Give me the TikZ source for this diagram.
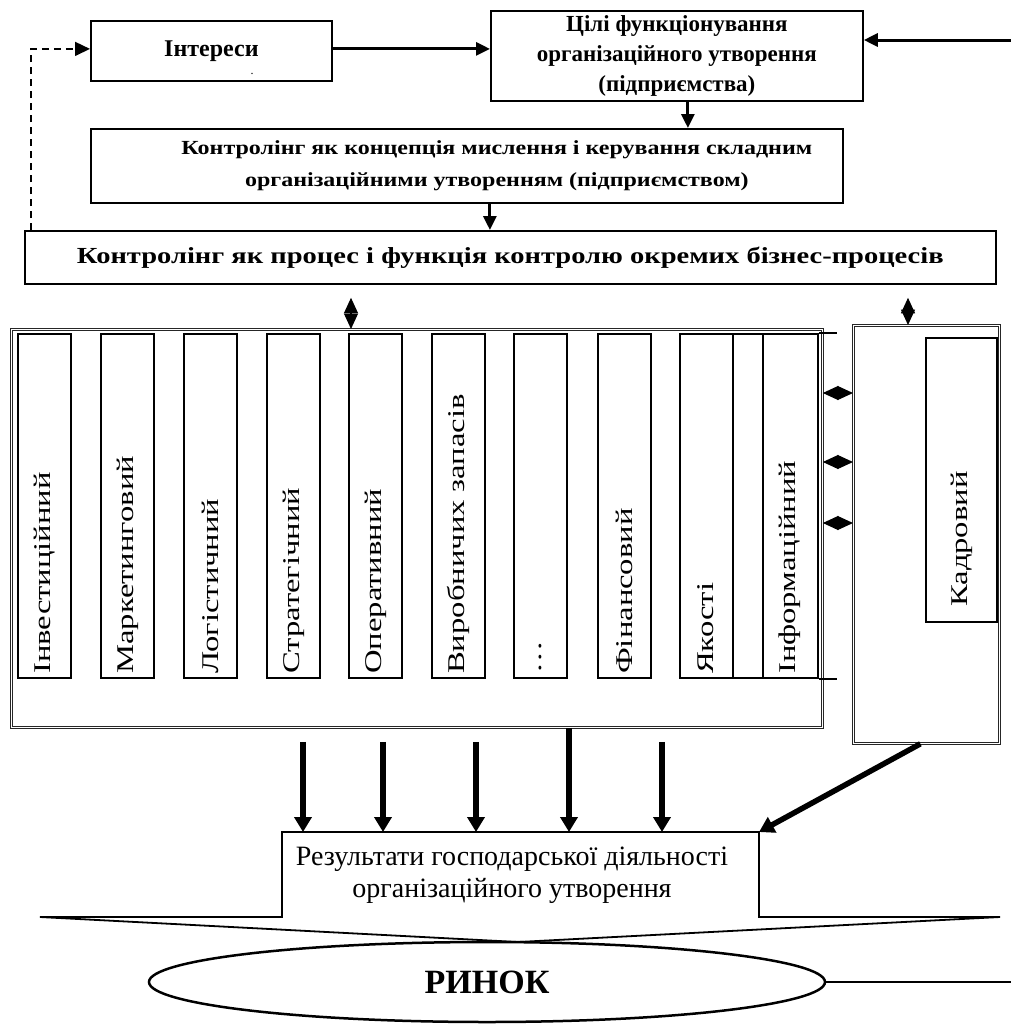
\documentclass[tikz,border=0pt]{standalone}
\usepackage{fontspec}
\setmainfont{Liberation Serif}
\newfontfamily\colfont[FakeStretch=1.36]{Liberation Serif}
\newfontfamily\headfont[FakeStretch=1.2]{Liberation Serif}
\newfontfamily\widefont[FakeStretch=1.24]{Liberation Serif}
\usetikzlibrary{arrows.meta, shapes.geometric, positioning, calc}

\begin{document}
\begin{tikzpicture}[x=1pt, y=-1pt]
    % Block styles
    \tikzstyle{block} = [rectangle, draw, line width=1.8pt, align=center, inner sep=0pt, anchor=north west]
    \tikzstyle{frame} = [rectangle, draw=black!85, double, double distance=1pt, line width=0.8pt, inner sep=0pt, anchor=north west]
    \tikzstyle{colbox} = [rectangle, draw, line width=2pt, minimum width=53pt, minimum height=344pt, anchor=north west, inner sep=0pt]
    \tikzstyle{coltext} = [rotate=90, anchor=west, font=\colfont\fontsize{24}{24}\selectfont, inner sep=0pt]
    \tikzstyle{arr} = [-{Triangle[length=14pt, width=13pt]}, line width=3pt]
    \tikzstyle{bigarr} = [-{Triangle[length=15pt, width=17pt]}, line width=5.5pt]
    \tikzstyle{dbl} = [{Triangle[length=15.5pt, width=14pt]}-{Triangle[length=15.5pt, width=14pt]}, line width=1.2pt]
    \useasboundingbox (0,0) rectangle (1011,1026);

    % Top blocks
    \node[block, minimum width=241pt, minimum height=60pt, font=\bfseries\fontsize{24}{28}\selectfont] (int) at (90,20) {Інтереси};
    \node[font=\fontsize{12}{12}\selectfont, inner sep=0pt] (dot) at (252,74) {.};
    \node[block, minimum width=372pt, minimum height=90pt, font=\bfseries\fontsize{23}{30}\selectfont] (goal) at (490,10) {Цілі функціонування\\організаційного утворення\\(підприємства)};
    \node[block, minimum width=752pt, minimum height=74pt] (concept) at (90,128) {};
    \node[font=\headfont\bfseries\fontsize{20}{32}\selectfont, align=center] (conceptTxt) at ([xshift=30pt]concept.center) {Контролінг як концепція мислення і керування складним\\організаційними утворенням (підприємством)};
    \node[block, minimum width=971pt, minimum height=53pt, font=\widefont\bfseries\fontsize{23}{26}\selectfont] (process) at (24,230) {Контролінг як процес і функція контролю окремих бізнес-процесів};

    % Connections on top
    \draw[arr] ([yshift=2pt]int.east) -- ([yshift=2pt]int.east -| goal.west);
    \coordinate (topin) at (1011,40);
    \draw[arr] (topin) -- (topin -| goal.east);
    \draw[arr] ([xshift=11pt]goal.south) -- ([xshift=11pt]goal.south |- concept.north);
    \draw[arr] ([xshift=23pt]concept.south) -- ([xshift=23pt]concept.south |- process.north);
    \draw[dash pattern=on 7pt off 5pt, line width=1.5pt, -{Triangle[length=15pt, width=14pt]}] ([xshift=7pt]process.north west) |- ([yshift=2pt]int.west);

    % Areas of controlling
    \node[frame, minimum width=811pt, minimum height=398pt] (outer) at (11,329) {};
    \node[frame, minimum width=146pt, minimum height=418pt] (kadr) at (853,325) {};
    \node[colbox, minimum width=71pt, minimum height=284pt] (kadrin) at (925,337) {};
    \node[coltext] at ([yshift=16pt]kadrin.south) {Кадровий};

    \foreach \xx/\nm/\txt in {17/c1/Інвестиційний, 100/c2/Маркетинговий, 183/c3/Логістичний, 266/c4/Стратегічний, 348/c5/Оперативний, 431/c6/Виробничих запасів, 513/c7/…, 597/c8/Фінансовий}{
        \node[colbox] (\nm) at (\xx,333) {};
        \node[coltext] at ([yshift=5pt]\nm.south) {\txt};
    }
    \node[colbox, minimum width=138pt] (grp) at (679,333) {};
    \draw[line width=2pt] ([xshift=54pt]grp.north west) -- ([xshift=54pt]grp.south west);
    \draw[line width=2pt] ([xshift=84pt]grp.north west) -- ([xshift=84pt]grp.south west);
    \draw[line width=2pt] (grp.north east) -- ++(18,0);
    \draw[line width=2pt] (grp.south east) -- ++(18,0);
    \node[coltext] at ([xshift=27pt, yshift=5pt]grp.south west) {Якості};
    \node[coltext] at ([xshift=111pt, yshift=5pt]grp.south west) {Інформаційний};

    % Links between the blocks
    \coordinate (dA) at (351,0);
    \coordinate (dB) at (908,0);
    \draw[dbl] ([yshift=-13pt]process.south -| dA) -- (outer.north -| dA);
    \draw[dbl] ([yshift=-13pt]process.south -| dB) -- (kadr.north -| dB);
    \foreach \yy in {393,462,523}{
        \coordinate (s) at (0,\yy);
        \draw[dbl] (outer.east |- s) -- (kadr.west |- s);
    }

    % Results
    \coordinate (rNW) at (282,832);
    \coordinate (rNE) at (759,832);
    \coordinate (rSW) at (282,917);
    \coordinate (rSE) at (759,917);
    \coordinate (wL) at (40,917);
    \coordinate (wR) at (1000,917);
    \coordinate (tip) at (518,942);
    \draw[line width=1.8pt, line join=miter] (wL) -- (rSW) -- (rNW) -- (rNE) -- (rSE) -- (wR) -- (tip) -- cycle;
    \node[font=\fontsize{28}{32}\selectfont, align=center] (res) at (512,875) {Результати господарської діяльності\\організаційного утворення};

    \foreach \xx in {303,383,476,662}{
        \coordinate (a) at (\xx,0);
        \draw[bigarr] ([yshift=-14pt]outer.south -| a) -- (rNW -| a);
    }
    \coordinate (a) at (569,0);
    \draw[bigarr] (outer.south -| a) -- (rNW -| a);
    \draw[bigarr] ([xshift=-6pt]kadr.south) -- (rNE);

    % Market
    \node[ellipse, draw, line width=2.5pt, minimum width=676pt, minimum height=80pt, font=\bfseries\fontsize{34}{34}\selectfont] (market) at (487,982) {РИНОК};
    \coordinate (mkt) at (1011,982);
    \draw[line width=2.5pt] (market.east) -- (mkt);
\end{tikzpicture}
\end{document}
